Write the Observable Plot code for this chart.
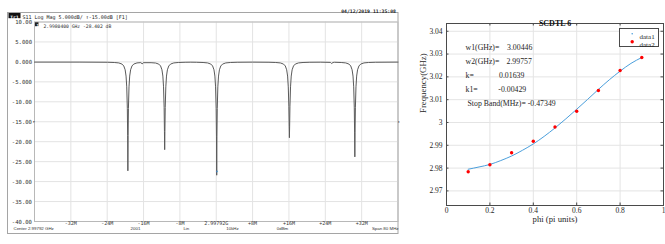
<!DOCTYPE html>
<html><head><meta charset="utf-8">
<script src="https://cdn.jsdelivr.net/npm/d3@7"></script>
<script src="https://cdn.jsdelivr.net/npm/@observablehq/plot@0.6"></script>
<style>
html,body{margin:0;padding:0;background:#fff;}
#wrap{position:relative;width:665px;height:244px;overflow:hidden;background:#fff;}
#left{position:absolute;left:0;top:0;}
#right{position:absolute;left:400px;top:0;}
</style></head>
<body><div id="wrap"><div id="left"></div><div id="right"></div></div>
<script>
// ---------- Left panel: VNA S11 trace (offset from centre, MHz / dB) ----------
const traceMHz = [-40,-30,
 -23.95,-22.45,-21.45,-20.75,-20.35,-20.05,-19.85,-19.7,-19.57,-19.5,-19.45,-19.4,-19.33,-19.2,-19.05,-18.85,-18.55,-18.15,-17.45,-16.6,
 -16.3,-16.05,
 -14.35,-13.35,-12.65,-12.25,-11.95,-11.75,-11.6,-11.47,-11.4,-11.35,-11.3,-11.23,-11.1,-10.95,-10.75,-10.45,-10.05,-9.35,-8.35,-6.85,-5.6,
 -4.4,-2.9,-1.9,-1.2,-0.8,-0.5,-0.3,-0.15,-0.02,0.05,0.1,0.15,0.22,0.35,0.5,0.7,1.0,1.4,2.1,3.1,4.6,8,
 11.6,13.1,14.1,14.8,15.2,15.5,15.7,15.85,15.98,16.05,16.1,16.15,16.22,16.35,16.5,16.7,17.0,17.4,18.1,19.1,20.6,23,
 25.1,25.4,25.7,
 26.0,27.5,28.5,29.2,29.6,29.9,30.1,30.25,30.38,30.45,30.5,30.55,30.62,30.75,30.9,31.1,31.4,31.8,32.5,33.5,35,40];
const traceDb = [-0.05,-0.05,
 -0.09,-0.15,-0.26,-0.54,-1.02,-1.98,-3.55,-6.25,-11.7,-18.4,-27.3,-18.4,-11.7,-6.25,-3.55,-1.98,-1.02,-0.54,-0.26,-0.18,
 -0.5,-0.2,
 -0.2,-0.28,-0.55,-1.02,-1.98,-3.55,-6.25,-11.4,-17.4,-22.0,-17.4,-11.4,-6.25,-3.55,-1.98,-1.02,-0.54,-0.26,-0.15,-0.09,-0.07,
 -0.09,-0.15,-0.26,-0.54,-1.02,-1.98,-3.55,-6.25,-11.7,-18.6,-28.4,-18.6,-11.7,-6.25,-3.55,-1.98,-1.02,-0.54,-0.26,-0.15,-0.09,-0.06,
 -0.09,-0.15,-0.26,-0.54,-1.02,-1.98,-3.55,-6.25,-11.1,-16.1,-19.0,-16.1,-11.1,-6.25,-3.55,-1.98,-1.02,-0.54,-0.26,-0.15,-0.09,-0.07,
 -0.12,-0.4,-0.14,
 -0.09,-0.15,-0.26,-0.54,-1.02,-1.98,-3.55,-6.25,-11.5,-17.8,-23.8,-17.8,-11.5,-6.25,-3.55,-1.98,-1.02,-0.54,-0.26,-0.15,-0.09,-0.05];

const vnaGridX = [-40,-32,-24,-16,-8,0,8,16,24,32,40];
const vnaXTicks = [-32,-24,-16,-8,0,8,16,24,32];
const vnaXTickLabels = ["-32M","-24M","-16M","-8M","2.99792G","+8M","+16M","+24M","+32M"];
const vnaYTicks = [10,5,0,-5,-10,-15,-20,-25,-30,-35,-40];
const vnaYTickLabels = ["10.00","5.000","0.000","-5.000","-10.00","-15.00","-20.00","-25.00","-30.00","-35.00","-40.00"];
const refLevel = -15;
const markerMHz = 0.12;
const markerDb = -28.402;
const vnaTrace = "Tr1";
const vnaTitle = "S11 Log Mag 5.000dB/ \u2191-15.00dB [F1]";
const vnaMarkerId = "1";
const vnaMarkerText = "2.9980400 GHz -28.402 dB";
const vnaDate = "04/12/2019 11:35:08";
const vnaStatus = ["Center 2.99792 GHz","2001","Lin","10kHz","0dBm","Span 80 MHz"];

// ---------- Right panel: dispersion curve ----------
const phiFit  = [0.1,0.15,0.2,0.25,0.3,0.35,0.4,0.45,0.5,0.55,0.6,0.65,0.7,0.75,0.8,0.85,0.9];
const freqFit = [2.9795,2.9805,2.9816,2.9833,2.9853,2.9878,2.9906,2.9939,2.9976,3.0016,3.0058,3.0101,3.0145,3.0187,3.0225,3.0259,3.0285];
const phiMeas  = [0.1,0.2,0.3,0.4,0.5,0.6,0.7,0.8,0.9];
const freqMeas = [2.9784,2.9815,2.9867,2.9918,2.9980,3.0049,3.0140,3.0228,3.0285];
const phiTicks = [0,0.2,0.4,0.6,0.8,1];
const phiTickLabels = ["0","0.2","0.4","0.6","0.8","1"];
const freqTicks = [2.97,2.98,2.99,3.00,3.01,3.02,3.03,3.04];
const freqTickLabels = ["2.97","2.98","2.99","3","3.01","3.02","3.03","3.04"];
const chartTitle = "SCDTL 6";
const xLabel = "phi (pi units)";
const yLabel = "Frequency(GHz)";
const annotLabels = ["w1(GHz)=","w2(GHz)=","k=","k1="];
const annotValues = ["3.00446","2.99757","0.01639","-0.00429"];
const stopBandLabel = "Stop Band(MHz)=";
const stopBandValue = "-0.47349";
const legendNames = ["data1","data2"];

// ---------- Left plot ----------
const trace = traceMHz.map((x, i) => ({x, y: traceDb[i]}));
const mono = "'DejaVu Sans Mono', 'Liberation Mono', monospace";
const statusDx = [-21, 101, 151.8, 198, 248, 364];
const statusAnchor = ["start", "middle", "middle", "middle", "middle", "end"];
const left = Plot.plot({
  width: 400, height: 244,
  marginLeft: 34, marginRight: 2.5, marginTop: 21.5, marginBottom: 23,
  style: {fontFamily: mono, fontSize: "5.6px", background: "white", color: "#333", overflow: "visible"},
  x: {domain: [-40, 40], axis: null},
  y: {domain: [-40, 10], axis: null},
  marks: [
    Plot.frame({insetLeft: -27, insetTop: -9.5, insetBottom: -12, stroke: "#a5a5a5"}),
    Plot.ruleX(vnaGridX, {stroke: "#e3e3e3"}),
    Plot.ruleY(vnaYTicks, {stroke: "#e3e3e3"}),
    Plot.frame({stroke: "#b8b8b8"}),
    Plot.line(trace, {x: "x", y: "y", stroke: "#5a5a5a", strokeWidth: 1}),
    // y tick labels
    Plot.text(vnaYTicks, {y: d => d, text: (d, i) => vnaYTickLabels[i], frameAnchor: "left", textAnchor: "end", dx: -2.5, dy: 0.3, fontSize: 5.6, fill: "#333"}),
    Plot.text([refLevel], {y: d => d, text: () => "\u25B8", frameAnchor: "left", textAnchor: "middle", dx: -0.5, fontSize: 4.5, fill: "#333"}),
    Plot.text([refLevel], {y: d => d, text: () => "\u25C2", frameAnchor: "right", textAnchor: "middle", dx: 0.5, fontSize: 4, fill: "#222"}),
    // x tick labels
    Plot.text(vnaXTicks, {x: d => d, text: (d, i) => vnaXTickLabels[i], frameAnchor: "bottom", dy: 3.4, fontSize: 5, fill: "#333"}),
    // marker
    Plot.text([markerMHz], {x: d => d, y: () => markerDb, text: () => "\u25BE", dy: -4, fontSize: 5, fill: "#3b7fc4"}),
    Plot.frame({fill: "#222", insetLeft: 0.5, insetRight: 359.5, insetTop: 0.3, insetBottom: 195.3}),
    Plot.text([vnaMarkerId], {text: d => d, frameAnchor: "top-left", dx: 2, dy: 2.3, fontSize: 4, fill: "white", fontWeight: "bold"}),
    Plot.text([vnaMarkerText], {text: d => d, frameAnchor: "top-left", textAnchor: "start", dx: 9, dy: 2.5, fontSize: 4.7, fill: "#333"}),
    // title bar
    Plot.frame({fill: "#111", insetLeft: -26, insetRight: 377.5, insetTop: -9, insetBottom: 203.3}),
    Plot.text([vnaTrace], {text: d => d, frameAnchor: "top-left", textAnchor: "middle", dx: -20, dy: -6.3, fontSize: 4.6, fill: "white", fontWeight: "bold"}),
    Plot.text([vnaTitle], {text: d => d, frameAnchor: "top-left", textAnchor: "start", dx: -12, dy: -6.3, fontSize: 5, fill: "#222",
      stroke: "white", strokeWidth: 1.5, paintOrder: "stroke"}),
    Plot.text([vnaDate], {text: d => d, frameAnchor: "top-right", textAnchor: "end", dx: -2, dy: -12.8, fontSize: 4.8, fill: "#222", fontWeight: "bold"}),
    // status line
    ...vnaStatus.map((s, i) => Plot.text([s], {text: d => d, frameAnchor: "bottom-left",
      textAnchor: statusAnchor[i], dx: statusDx[i], dy: 8.3,
      fontSize: 4.4, fill: "#333", fontFamily: "'Liberation Sans', Arial, sans-serif"}))
  ]
});
document.getElementById("left").appendChild(left);

// ---------- Right plot ----------
const fit = phiFit.map((x, i) => ({x, y: freqFit[i]}));
const meas = phiMeas.map((x, i) => ({x, y: freqMeas[i]}));
const serif = "'Liberation Serif', 'Times New Roman', serif";
const innerW = 265 - 46 - 2, innerH = 244 - 23 - 39;
const axisColor = "#4a4a4a";
const valueDx = [60.5, 60, 52.5, 51.8];
const right = Plot.plot({
  width: 265, height: 244,
  marginLeft: 46, marginRight: 2, marginTop: 23, marginBottom: 39,
  style: {fontFamily: serif, fontSize: "7.5px", background: "white", color: "#262626", overflow: "visible"},
  x: {domain: [0, 1], axis: null},
  y: {domain: [2.9636, 3.0434], axis: null},
  marks: [
    Plot.ruleX(phiTicks, {stroke: "#e4e4e4"}),
    Plot.ruleY(freqTicks, {stroke: "#e4e4e4"}),
    Plot.line(fit, {x: "x", y: "y", stroke: "#4b9fdc", strokeWidth: 1, curve: "monotone-x"}),
    Plot.dot(meas, {x: "x", y: "y", r: 1.7, fill: "#ff0000", stroke: "none"}),
    Plot.frame({stroke: axisColor}),
    // inward ticks
    Plot.tickX(phiTicks, {x: d => d, insetTop: innerH - 2.5, stroke: axisColor}),
    Plot.tickX(phiTicks, {x: d => d, insetBottom: innerH - 2.5, stroke: axisColor}),
    Plot.tickY(freqTicks, {y: d => d, insetRight: innerW - 2.5, stroke: axisColor}),
    Plot.tickY(freqTicks, {y: d => d, insetLeft: innerW - 2.5, stroke: axisColor}),
    // tick labels
    Plot.text(phiTicks, {x: d => d, text: (d, i) => phiTickLabels[i], frameAnchor: "bottom", dy: 7.8, fontSize: 7.5, fill: "#262626"}),
    Plot.text(freqTicks, {y: d => d, text: (d, i) => freqTickLabels[i], frameAnchor: "left", textAnchor: "end", dx: -4, fontSize: 7.5, fill: "#262626"}),
    // title and axis labels
    Plot.text([chartTitle], {text: d => d, frameAnchor: "top", dy: -3, fontSize: 8, fontWeight: "bold", fill: "#111"}),
    Plot.text([xLabel], {text: d => d, frameAnchor: "bottom", dy: 16.7, fontSize: 8.7, fill: "#262626"}),
    Plot.text([yLabel], {text: d => d, frameAnchor: "left", dx: -23, dy: -1.5, rotate: -90, fontSize: 8.8, fill: "#262626"}),
    // annotations
    ...annotLabels.map((s, i) => Plot.text([s], {text: d => d, frameAnchor: "top-left", textAnchor: "start", dx: 19, dy: 21 + i * 14.1, fontSize: 7.8, fill: "#262626"})),
    ...annotValues.map((s, i) => Plot.text([s], {text: d => d, frameAnchor: "top-left", textAnchor: "start", dx: valueDx[i], dy: 21 + i * 14.1, fontSize: 7.8, fill: "#262626"})),
    Plot.text([stopBandLabel + " " + stopBandValue], {text: d => d, frameAnchor: "top-left", textAnchor: "start", dx: 21, dy: 76.5, fontSize: 7.8, fill: "#262626"}),
    // legend
    Plot.frame({fill: "white", stroke: axisColor, insetLeft: 173, insetRight: 5, insetTop: 5, insetBottom: 159}),
    Plot.dot([legendNames[0]], {frameAnchor: "top-right", dx: -31.3, dy: 10.3, r: 0.8, fill: "#4b9fdc", stroke: "none"}),
    Plot.dot([legendNames[1]], {frameAnchor: "top-right", dx: -31.3, dy: 18.3, r: 1.7, fill: "#ff0000", stroke: "none"}),
    ...legendNames.map((s, i) => Plot.text([s], {text: d => d, frameAnchor: "top-right", textAnchor: "start", dx: -24, dy: 10.3 + i * 8, fontSize: 7, fill: "#262626"}))
  ]
});
document.getElementById("right").appendChild(right);
</script>
</body></html>
